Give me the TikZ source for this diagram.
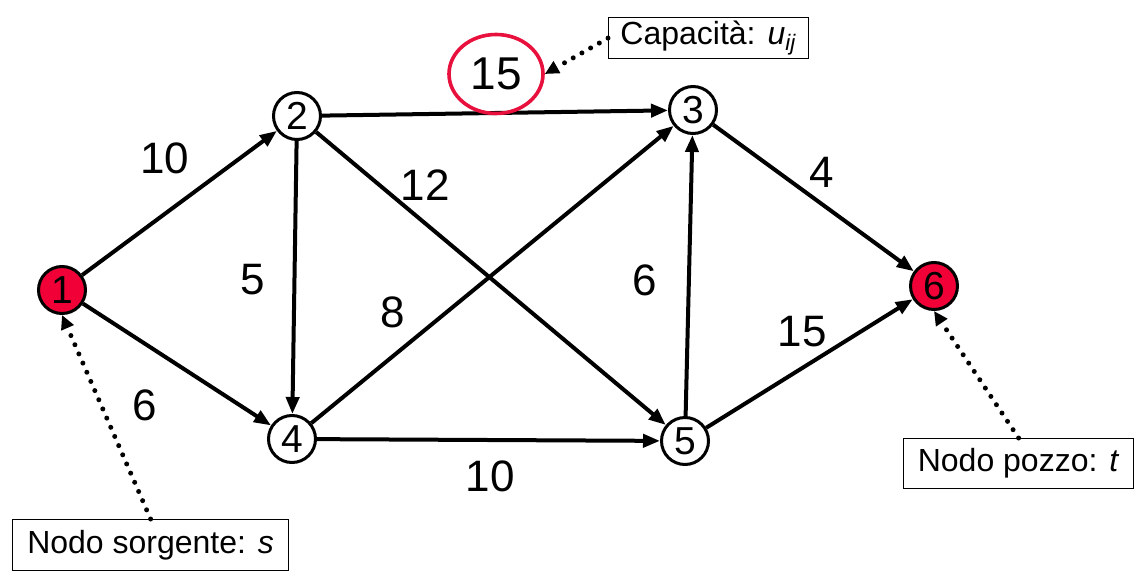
\documentclass[tikz,border=0pt]{standalone}
\usepackage{fontspec}
\setmainfont{Liberation Sans}
\usetikzlibrary{arrows.meta,shapes.geometric}
\definecolor{nodered}{RGB}{240,0,55}
\definecolor{ringred}{RGB}{232,16,60}

\begin{document}
\begin{tikzpicture}[x=0.5pt, y=-0.5pt,
  vertex/.style={circle, draw, line width=1.5pt, minimum size=23.5pt, inner sep=0pt, fill=white, font=\fontsize{19.5}{19.5}\selectfont},
  terminal/.style={vertex, fill=nodered},
  arc/.style={-{Triangle[length=8.5pt,width=6.5pt]}, line width=2pt},
  weight/.style={font=\fontsize{22}{22}\selectfont},
  note/.style={draw, line width=0.6pt, inner sep=0pt, anchor=north west, font=\fontsize{16}{16}\selectfont},
  pointer/.style={-{Triangle[length=7pt,width=6.5pt]}, line width=2.5pt, line cap=round, dash pattern=on 0pt off 5pt}]
  \useasboundingbox (0,0) rectangle (1139,583);

  % nodes of the network
  \node[terminal] (n1) at (62,290) {1};
  \node[vertex]   (n2) at (297,116) {2};
  \node[vertex]   (n3) at (693,110) {3};
  \node[vertex]   (n4) at (292,439) {4};
  \node[vertex]   (n5) at (685,441) {5};
  \node[terminal] (n6) at (934,286) {6};

  % arcs
  \draw[arc] (n1) -- (n2);
  \draw[arc] (n1) -- (n4);
  \draw[arc] (n2) -- (n3);
  \draw[arc] (n2) -- (n4);
  \draw[arc] (n2) -- (n5);
  \draw[arc] (n4) -- (n3);
  \draw[arc] (n4) -- (n5);
  \draw[arc] (n5) -- (n3);
  \draw[arc] (n3) -- (n6);
  \draw[arc] (n5) -- (n6);

  % capacities
  \node[weight] (w12) at (165,158) {10};
  \node[weight] (w14) at (145,405) {6};
  \node[weight] (w24) at (253,280) {5};
  \node[weight] (w25) at (425,185) {12};
  \node[weight] (w43) at (393,312) {8};
  \node[weight, font=\fontsize{23}{23}\selectfont, ellipse, draw=ringred, line width=1.8pt,
        minimum width=47pt, minimum height=39.5pt, inner sep=0pt] (w23) at (496,74) {15};
  \node[weight] (w53) at (645,280) {6};
  \node[weight] (w36) at (822,172) {4};
  \node[weight] (w56) at (802,332) {15};
  \node[weight] (w45) at (490,476) {10};

  % notes
  \node[note, minimum width=100pt, minimum height=20.5pt] (capnote) at (608,17) {Capacità: \textit{u}\textsubscript{\textit{ij}}};
  \node[note, minimum width=115pt, minimum height=25pt] (sinknote) at (903,438) {Nodo pozzo: \textit{t}};
  \node[note, minimum width=138pt, minimum height=25.5pt] (sourcenote) at (12,519) {Nodo sorgente: \textit{s}};

  \draw[pointer] (capnote.west) -- (w23.east);
  \draw[pointer] (sinknote.north) -- (n6.south);
  \draw[pointer] (sourcenote.north) -- (n1.south);
\end{tikzpicture}
\end{document}
